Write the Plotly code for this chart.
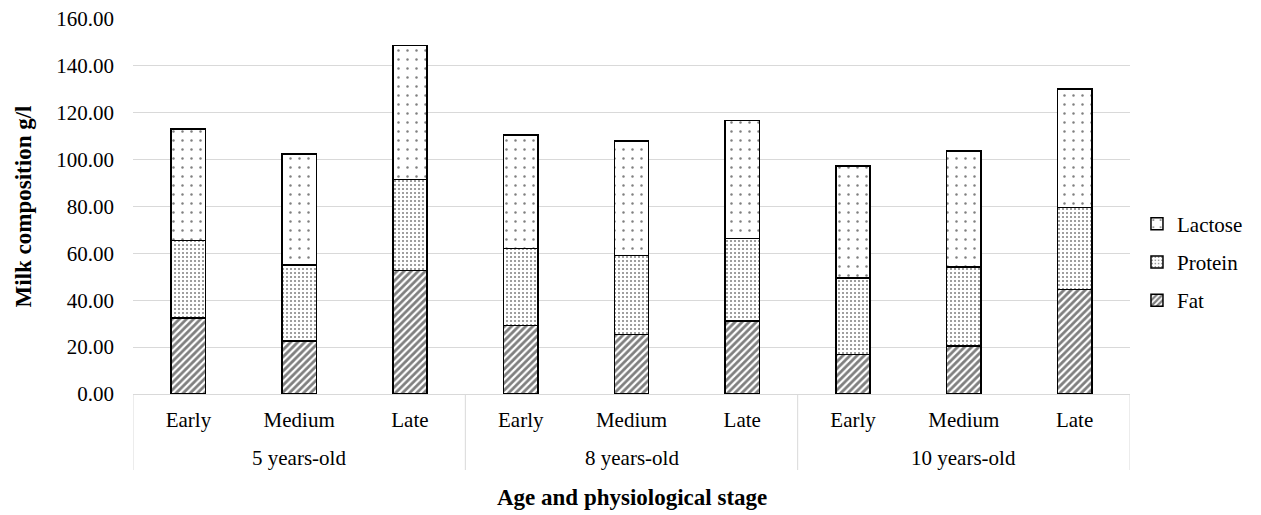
import plotly.graph_objects as go

age_groups = ["5 years-old", "8 years-old", "10 years-old"]
stages = ["Early", "Medium", "Late"] * 3

fat = [32.5, 22.7, 52.6, 29.3, 25.4, 31.2, 16.8, 20.4, 44.5]
protein = [33.0, 32.3, 39.0, 32.8, 33.6, 35.1, 32.8, 33.7, 35.1]
lactose = [47.6, 47.4, 57.0, 48.5, 49.0, 50.5, 47.7, 49.6, 50.5]

FONT = "Liberation Serif, Tinos, Nimbus Roman, serif"
BOLD = "Liberation Serif"
GRID = "#d9d9d9"

xpos = list(range(len(stages)))

fig = go.Figure()
series = [
    ("Fat", fat, 3, dict(shape="/", size=5, solidity=0.55, fgcolor="black", bgcolor="white", fillmode="overlay")),
    ("Protein", protein, 2, dict(shape=".", size=4, solidity=0.2, fgcolor="black", bgcolor="white", fillmode="overlay")),
    ("Lactose", lactose, 1, dict(shape=".", size=9, solidity=0.06, fgcolor="black", bgcolor="white", fillmode="overlay")),
]
for name, vals, rank, pat in series:
    fig.add_trace(go.Bar(
        x=xpos, y=vals, name=name, legendgroup=name, legendrank=rank,
        customdata=stages,
        marker=dict(color="white", pattern=pat, line=dict(color="black", width=1.5)),
    ))

n_per = 3
for g, label in enumerate(age_groups):
    centre = g * n_per + (n_per - 1) / 2
    fig.add_annotation(x=centre, y=-0.1707, xref="x", yref="paper", yanchor="middle",
                       text=label, showarrow=False, font=dict(family=FONT, size=21, color="black"))
for g in range(len(age_groups) + 1):
    xd = g * n_per - 0.5
    fig.add_shape(type="line", x0=xd, x1=xd, y0=0, y1=-0.2027, xref="x", yref="paper",
                  line=dict(color=GRID, width=1))

fig.add_annotation(x=0.5, y=-0.277, xref="paper", yref="paper", yanchor="middle",
                   text="<b>Age and physiological stage</b>", showarrow=False,
                   font=dict(family=BOLD, size=23, color="black"))

fig.update_layout(
    barmode="stack",
    bargap=0.69,
    width=1261, height=515,
    margin=dict(l=133, r=131, t=19, b=121, autoexpand=False),
    paper_bgcolor="white", plot_bgcolor="white",
    font=dict(family=FONT, size=21, color="black"),
    legend=dict(x=1.007, y=0.352, xanchor="left", yanchor="middle",
                traceorder="grouped", tracegroupgap=8, itemwidth=30,
                font=dict(size=21, family=FONT, color="black")),
    xaxis=dict(
        range=[-0.5, 8.5], automargin=False,
        tickmode="array", tickvals=xpos, ticktext=stages,
        ticks="", showgrid=False, zeroline=False,
        showline=True, linecolor=GRID, linewidth=1,
        ticklabelstandoff=7,
        tickfont=dict(size=21, family=FONT, color="black"),
    ),
    yaxis=dict(
        range=[0, 160], dtick=20, tickformat=".2f", automargin=False,
        showgrid=True, gridcolor=GRID, gridwidth=1,
        zeroline=False, showline=False, ticks="",
        ticklabelstandoff=18,
        tickfont=dict(size=21, family=FONT, color="black"),
        title=dict(text="<b>Milk composition g/l</b>", font=dict(size=23, family=BOLD, color="black"), standoff=18),
    ),
)

fig.write_html("out.html")
